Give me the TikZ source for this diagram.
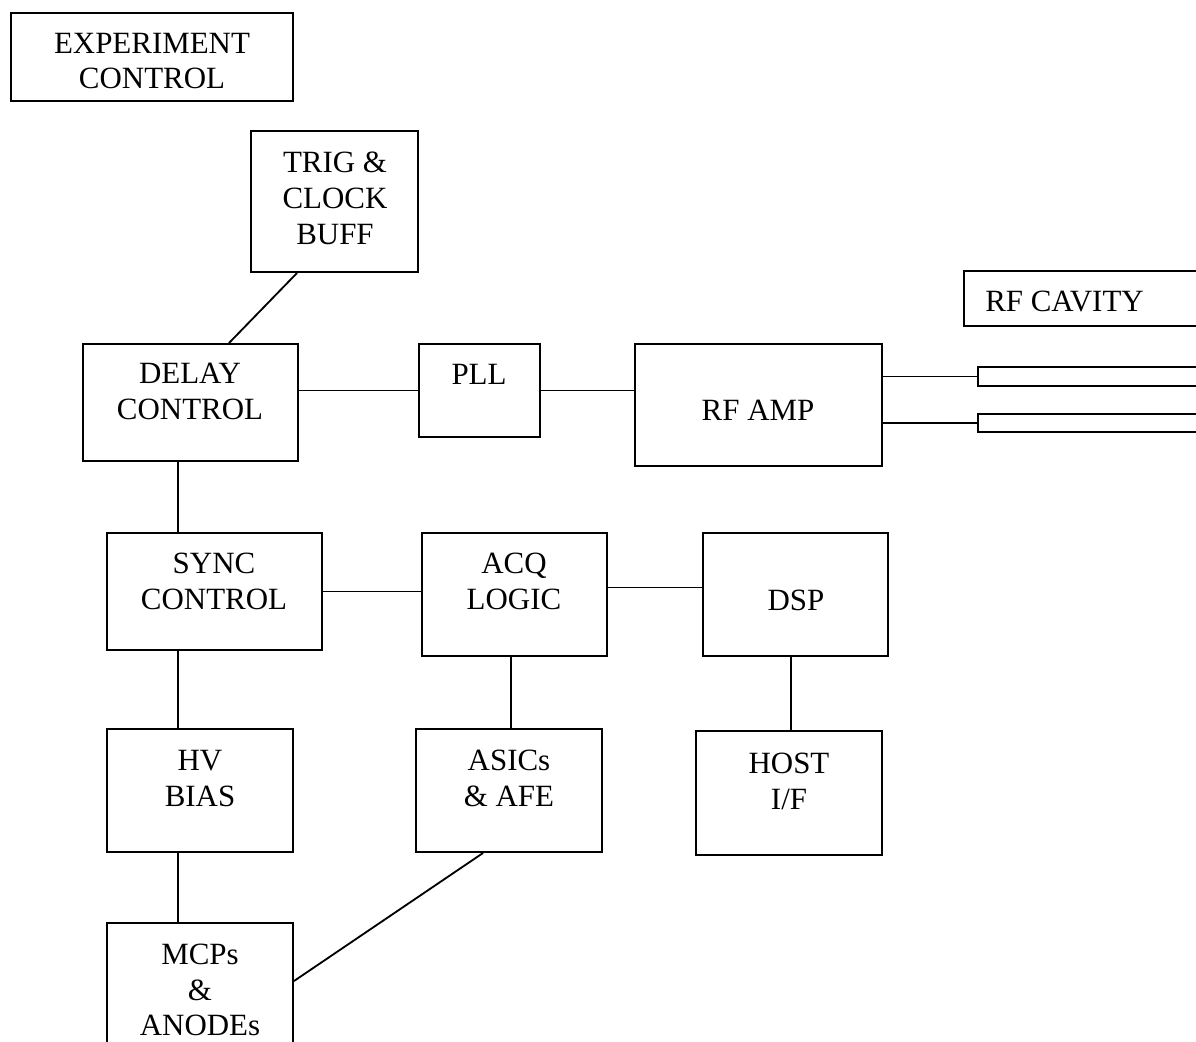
\documentclass[tikz,border=0pt]{standalone}
\usepackage{fontspec}
\setmainfont{Liberation Serif}
\usetikzlibrary{positioning, calc}

\tikzset{
  blk/.style 2 args={draw, line width=1.4pt, inner sep=0pt,
    minimum width=#1*0.025cm, minimum height=#2*0.025cm},
  lbl/.style={font=\fontsize{22}{25.5}\selectfont, align=center, inner sep=0pt},
  wire/.style={line width=1.3pt}
}

\begin{document}
\begin{tikzpicture}[x=0.025cm, y=-0.025cm]
        % Page frame (the original figure is cut at the right and bottom)
        \useasboundingbox (0,0) rectangle (1196,1041);
        \fill[white] (0,0) rectangle (1196,1041);
        \clip (0,0) rectangle (1196,1041);

        % Top row
        \node[blk={282}{88}] (expctl) at (152,57) {};
        \node[lbl] (expctl-t) at (152,61) {EXPERIMENT\\CONTROL};
        \node[blk={167}{141}] (trig) at (334.5,201.5) {};
        \node[lbl] (trig-t) at (335,198.5) {TRIG \&\\CLOCK\\BUFF};

        % RF chain
        \node[blk={215}{117}] (delay) at (190.5,402.5) {};
        \node[lbl] (delay-t) at (190,391.5) {DELAY\\CONTROL};
        \node[blk={121}{93}] (pll) at (479.5,390.5) {};
        \node[lbl] (pll-t) at (479,374) {PLL};
        \node[blk={247}{122}] (rfamp) at (758.5,405) {};
        \node[lbl] (rfamp-t) at (758,410) {RF AMP};
        \node[blk={266}{55}] (rfcav) at (1097,298.5) {};
        \node[lbl, anchor=west] (rfcav-t) at (985,301) {RF CAVITY};
        \node[blk={262}{19}] (tubeA) at (1109,376.5) {};
        \node[blk={262}{18}] (tubeB) at (1109,423) {};

        % Acquisition row
        \node[blk={215}{117}] (sync) at (214.5,591.5) {};
        \node[lbl] (sync-t) at (214,581.5) {SYNC\\CONTROL};
        \node[blk={185}{123}] (acq) at (514.5,594.5) {};
        \node[lbl] (acq-t) at (514,581.5) {ACQ\\LOGIC};
        \node[blk={185}{123}] (dsp) at (795.5,594.5) {};
        \node[lbl] (dsp-t) at (796,600) {DSP};

        % Front end row
        \node[blk={186}{123}] (hv) at (200,790.5) {};
        \node[lbl] (hv-t) at (200,778.5) {HV\\BIAS};
        \node[blk={186}{123}] (asic) at (509,790.5) {};
        \node[lbl] (asic-t) at (509,778.5) {ASICs\\\& AFE};
        \node[blk={186}{124}] (host) at (789,793) {};
        \node[lbl] (host-t) at (789,781) {HOST\\I/F};

        % Detector (runs off the page)
        \node[blk={186}{150}] (mcp) at (200,998) {};
        \node[lbl] (mcp-t) at (200,990) {MCPs\\\&\\ANODEs};

        % Connections
        \draw[wire] ($(trig.south west)+(47,0)$) -- ($(delay.north west)+(147,0)$);
        \draw[wire] (pll.west -| delay.east) -- (pll.west);
        \draw[wire] (pll.east) -- (pll.east -| rfamp.west);
        \draw[wire] (rfamp.east |- tubeA.west) -- (tubeA.west);
        \draw[wire] (rfamp.east |- tubeB.west) -- (tubeB.west);
        \draw[wire] ($(sync.north west)+(72,0)$) coordinate (s-top) -- (s-top |- delay.south);
        \draw[wire] (sync.east) -- (sync.east -| acq.west);
        \draw[wire] ($(acq.east)+(0,-7)$) coordinate (a-out) -- (a-out -| dsp.west);
        \draw[wire] ($(hv.north west)+(72,0)$) coordinate (h-top) -- (h-top |- sync.south);
        \draw[wire] ($(asic.north)+(2,0)$) coordinate (f-top) -- (f-top |- acq.south);
        \draw[wire] ($(host.north)+(2,0)$) coordinate (i-top) -- (i-top |- dsp.south);
        \draw[wire] ($(mcp.north west)+(72,0)$) coordinate (m-top) -- (m-top |- hv.south);
        \draw[wire] ($(asic.south west)+(68,0)$) -- ($(mcp.north east)+(0,59)$);
    \end{tikzpicture}
\end{document}
